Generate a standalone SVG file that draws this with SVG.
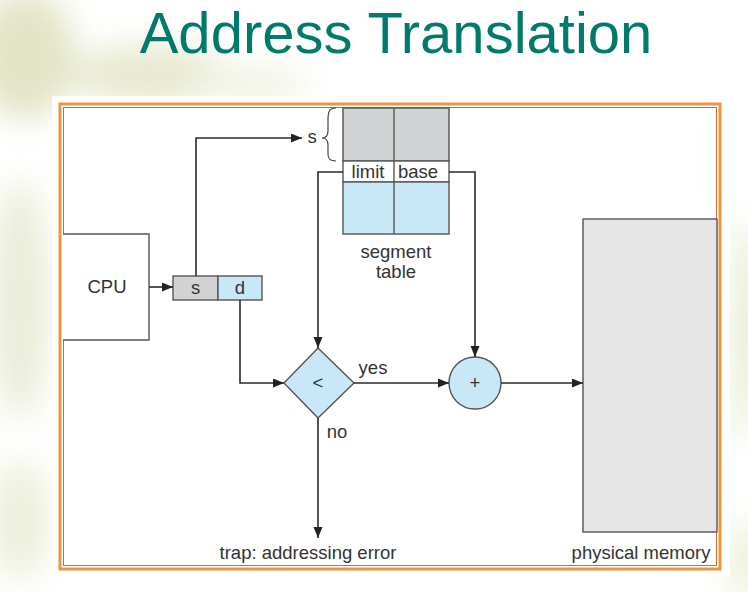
<svg xmlns="http://www.w3.org/2000/svg" width="748" height="592" viewBox="0 0 748 592">
  <defs>
    <marker id="arr" markerUnits="userSpaceOnUse" markerWidth="12" markerHeight="10" refX="11" refY="4.5" orient="auto">
      <path d="M0,0 L11,4.5 L0,9 z" fill="#222"/>
    </marker>
    <filter id="blur" x="-50%" y="-50%" width="200%" height="200%">
      <feGaussianBlur stdDeviation="16"/>
    </filter>
  </defs>
  <style>
    .ln { fill: none; stroke: #2a2a2a; stroke-width: 1.6; }
    .box { stroke: #555; stroke-width: 1.4; }
    .t { font-family: "Liberation Sans", Arial, sans-serif; font-size: 18.5px; fill: #333; }
    .c { text-anchor: middle; }
  </style>

  <!-- background -->
  <rect x="0" y="0" width="748" height="592" fill="#ffffff"/>
  <g filter="url(#blur)" opacity="0.75">
    <ellipse cx="25" cy="55" rx="50" ry="65" fill="#d9dcb4"/>
    <ellipse cx="150" cy="75" rx="80" ry="30" fill="#e0e2c0"/>
    <ellipse cx="250" cy="85" rx="60" ry="18" fill="#eceedb"/>
    <ellipse cx="20" cy="300" rx="30" ry="120" fill="#e4e6cc"/>
    <ellipse cx="20" cy="520" rx="30" ry="60" fill="#e8eacf"/>
    <ellipse cx="748" cy="330" rx="18" ry="110" fill="#e4e6c8"/>
    <ellipse cx="748" cy="560" rx="20" ry="40" fill="#e8eacf"/>
  </g>

  <!-- frame -->
  <rect x="52" y="96" width="678" height="480" fill="#ffffff"/>
  <rect x="60" y="104" width="660" height="465" fill="none" stroke="#ec9440" stroke-width="3"/>
  <rect x="63.5" y="107.5" width="653" height="458" fill="none" stroke="#cc7028" stroke-width="1"/>

  <!-- title -->
  <text x="396" y="53" text-anchor="middle" font-family="'Liberation Sans', Arial, sans-serif" font-size="58" fill="#007a6a">Address Translation</text>

  <!-- CPU -->
  <g id="cpu">
    <path d="M63,234 H149 V340 H63" class="box" fill="#fff"/>
    <text x="107" y="293" class="t c" font-size="17">CPU</text>
  </g>

  <!-- logical address register -->
  <g id="register">
    <rect x="173" y="276" width="45" height="24" fill="#d1d3d4" class="box"/>
    <rect x="218" y="276" width="44" height="24" fill="#c8e8f8" class="box"/>
    <text x="195.5" y="294" class="t c">s</text>
    <text x="240" y="294" class="t c">d</text>
  </g>

  <!-- segment table -->
  <g id="segment-table">
    <rect x="343" y="108" width="106" height="53" fill="#d1d3d4" class="box"/>
    <rect x="343" y="161" width="106" height="21" fill="#ffffff" class="box"/>
    <rect x="343" y="182" width="106" height="52" fill="#c8e8f8" class="box"/>
    <line x1="394" y1="108" x2="394" y2="234" class="box"/>
    <text x="368" y="178" class="t c">limit</text>
    <text x="418" y="178" class="t c">base</text>
    <text x="396" y="258" class="t c">segment</text>
    <text x="396" y="278" class="t c">table</text>
    <path d="M336,108 C329,108 328,112 328,120 L328,131 C328,136 326,138 322,138 C326,138 328,140 328,145 L328,154 C328,159 330,161 336,161" fill="none" stroke="#444" stroke-width="1.2"/>
    <text x="312" y="143" class="t c">s</text>
  </g>

  <!-- comparator -->
  <g id="compare">
    <polygon points="318,348 354,383 318,418 284,383" fill="#c8e8f8" class="box"/>
    <text x="318" y="389" class="t c">&lt;</text>
  </g>

  <!-- adder -->
  <g id="adder">
    <circle cx="475" cy="383" r="26" fill="#c8e8f8" class="box"/>
    <text x="475" y="389" class="t c">+</text>
  </g>

  <!-- physical memory -->
  <g id="memory">
    <rect x="583" y="219" width="134" height="313" fill="#e6e6e6" class="box"/>
    <text x="641" y="559" class="t c">physical memory</text>
  </g>

  <!-- trap -->
  <g id="trap">
    <text x="308" y="559" class="t c">trap: addressing error</text>
  </g>

  <!-- connectors -->
  <g id="connectors">
    <path d="M149,287 H173" class="ln" marker-end="url(#arr)"/>
    <path d="M196,276 V138 H302" class="ln" marker-end="url(#arr)"/>
    <path d="M343,172 H318 V348" class="ln" marker-end="url(#arr)"/>
    <path d="M449,172 H475 V357" class="ln" marker-end="url(#arr)"/>
    <path d="M240,300 V383 H284" class="ln" marker-end="url(#arr)"/>
    <path d="M354,383 H449" class="ln" marker-end="url(#arr)"/>
    <path d="M501,383 H583" class="ln" marker-end="url(#arr)"/>
    <path d="M318,418 V538" class="ln" marker-end="url(#arr)"/>
    <text x="373" y="374" class="t c">yes</text>
    <text x="337" y="438" class="t c">no</text>
  </g>
</svg>
